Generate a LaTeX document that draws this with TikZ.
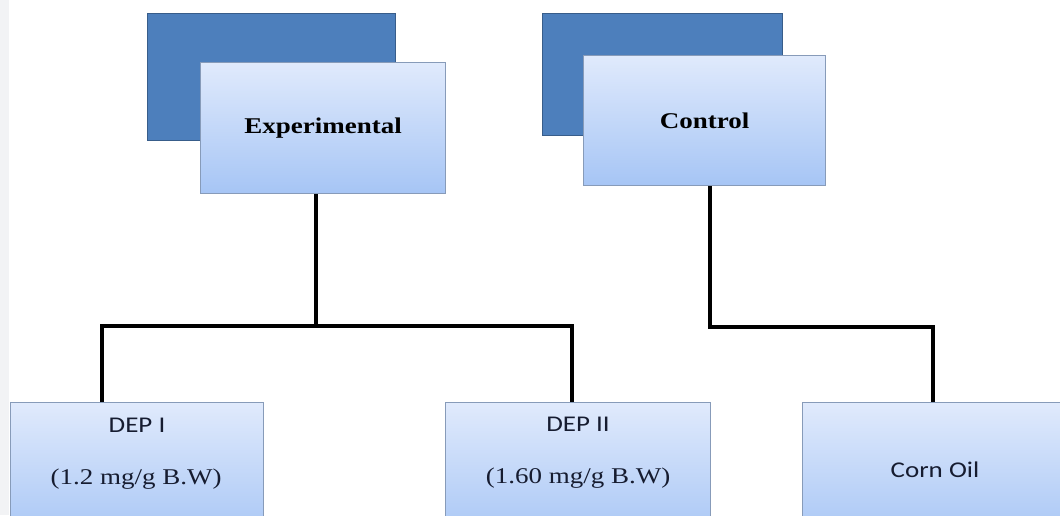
\documentclass[tikz,border=0pt]{standalone}
\usepackage{fontspec}
\setmainfont{Liberation Serif}
\newfontfamily\calfont{Carlito}
\usetikzlibrary{positioning}
\definecolor{backblue}{RGB}{77,127,188}
\definecolor{backedge}{RGB}{56,93,138}
\definecolor{frontedge}{RGB}{135,155,185}
\definecolor{fronttop}{RGB}{224,234,252}
\definecolor{frontbot}{RGB}{166,197,245}
\definecolor{inkblue}{RGB}{22,28,48}
\definecolor{stripgray}{RGB}{242,243,245}
\newcommand{\wide}[1]{\scalebox{1.2}[1]{#1}}

\begin{document}
\begin{tikzpicture}[x=0.025cm,y=-0.025cm,
  size/.style 2 args={minimum width=#1*0.025cm,minimum height=#2*0.025cm},
  backbox/.style={draw=backedge,fill=backblue,line width=0.8pt,anchor=north west,inner sep=0pt},
  frontbox/.style={draw=frontedge,top color=fronttop,bottom color=frontbot,line width=0.8pt,
    anchor=north west,inner sep=0pt,font=\fontsize{16}{19}\selectfont\bfseries,text=black},
  sanslbl/.style={font=\fontsize{16}{19}\selectfont\calfont,text=inkblue},
  seriflbl/.style={font=\fontsize{16}{19}\selectfont,text=inkblue},
  conn/.style={line width=2.6pt,black}]

  \useasboundingbox (0,0) rectangle (1060,515);
  \clip (0,0) rectangle (1060,515);
  \fill[stripgray] (0,0) rectangle (9,515);

  % top groups
  \node[backbox,size={248}{127}] (expback) at (147,13) {};
  \node[frontbox,size={245}{131}] (expfront) at (200,62) {\wide{Experimental}};

  \node[backbox,size={240}{122}] (ctrlback) at (542,13) {};
  \node[frontbox,size={242}{130}] (ctrlfront) at (583,55) {\wide{Control}};

  % bottom boxes
  \node[frontbox,size={253}{140}] (dep1) at (10,402) {};
  \node[frontbox,size={265}{140}] (dep2) at (445,402) {};
  \node[frontbox,size={280}{140}] (corn) at (802,402) {};

  \node[sanslbl] (dep1name) at (137,425) {\wide{DEP I}};
  \node[seriflbl] (dep1dose) at (136,479) {\wide{(1.2 mg/g B.W)}};
  \node[sanslbl] (dep2name) at (578,424) {\wide{DEP II}};
  \node[seriflbl] (dep2dose) at (578,478) {\wide{(1.60 mg/g B.W)}};
  \node[sanslbl] (cornname) at (935,470) {\wide{Corn Oil}};

  % junctions
  \coordinate (expjoin) at (316,326);
  \coordinate (ctrljoin) at (710,327);
  \coordinate (dep1top) at (102,402);
  \coordinate (dep2top) at (572,402);
  \coordinate (corntop) at (933,402);

  \draw[conn] (expjoin |- expfront.south) -- (expjoin);
  \draw[conn] (dep1top) -- (dep1top |- expjoin) -- (dep2top |- expjoin) -- (dep2top);
  \draw[conn] (ctrljoin |- ctrlfront.south) -- (ctrljoin) -- (corntop |- ctrljoin) -- (corntop);

\end{tikzpicture}
\end{document}
